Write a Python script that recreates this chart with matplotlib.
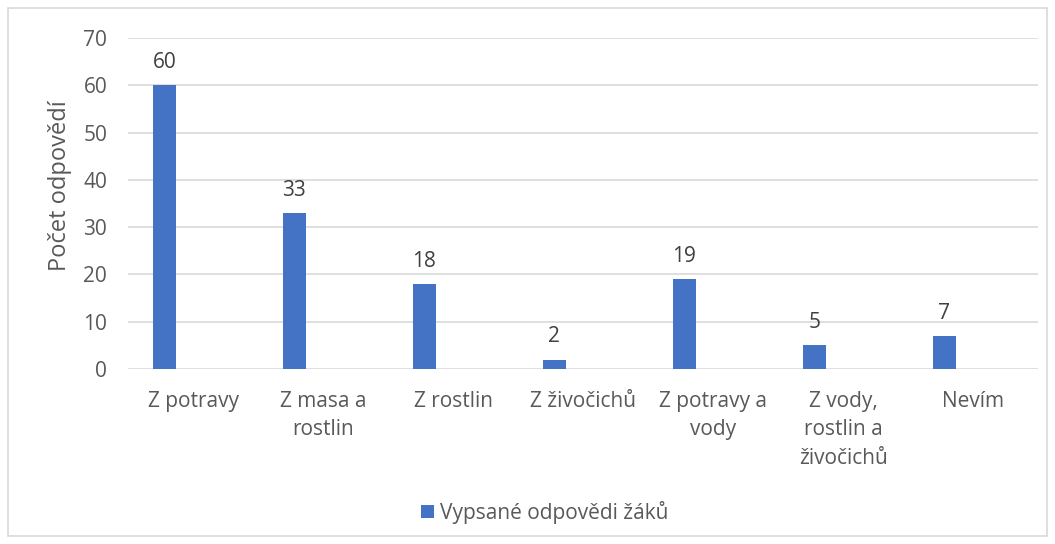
import matplotlib
matplotlib.use("Agg")
import matplotlib.pyplot as plt
from matplotlib.patches import Rectangle
import numpy as np

categories = ["Z potravy", "Z masa a\nrostlin", "Z rostlin", "Z živočichů",
              "Z potravy a\nvody", "Z vody,\nrostlin a\nživočichů", "Nevím"]
values = [60, 33, 18, 2, 19, 5, 7]
series_name = "Vypsané odpovědi žáků"
y_ticks = [0, 10, 20, 30, 40, 50, 60, 70]

plt.rcParams['font.family'] = ['Open Sans', 'DejaVu Sans']
text_color = "#595959"
bar_color = "#4472C4"

fig = plt.figure(figsize=(10.55, 5.44), dpi=100)
fig.patches.append(Rectangle((8/1055, 8/544), 1 - 16/1055, 1 - 16/544,
                             transform=fig.transFigure, fill=False,
                             edgecolor="#D9D9D9", linewidth=1.2))
ax = fig.add_axes([128/1055, 1 - 369/544, 910/1055, 331/544])

x = np.arange(len(categories))
bars = ax.bar(x - 0.22, values, width=0.177, color=bar_color, label=series_name, zorder=3)
for xi, v in zip(x, values):
    ax.text(xi - 0.22, v + 2.6, str(v), ha="center", va="bottom",
            fontsize=15, color="#404040")

ax.set_xlim(-0.5, len(categories) - 0.5)
ax.set_ylim(0, 70)
ax.set_yticks(y_ticks)
ax.set_xticks(x)
ax.set_xticklabels(categories, fontsize=15, color=text_color, linespacing=1.45)
ax.tick_params(axis="y", labelsize=15, labelcolor=text_color, length=0, pad=15)
ax.tick_params(axis="x", length=0, pad=16)
ax.grid(axis="y", color="#D9D9D9", linewidth=1.2, zorder=0)
for s in ax.spines.values():
    s.set_visible(False)
ax.set_ylabel("Počet odpovědí", fontsize=17, color=text_color, labelpad=8)
ax.yaxis.label.set_y(0.555)

leg = fig.legend(handles=[bars], labels=[series_name], loc="center",
                 bbox_to_anchor=(545/1055, 1 - 512/544), frameon=False,
                 fontsize=15, handlelength=0.6, handleheight=0.6,
                 handletextpad=0.3)
for t in leg.get_texts():
    t.set_color(text_color)

fig.savefig("out.png", dpi=100)
